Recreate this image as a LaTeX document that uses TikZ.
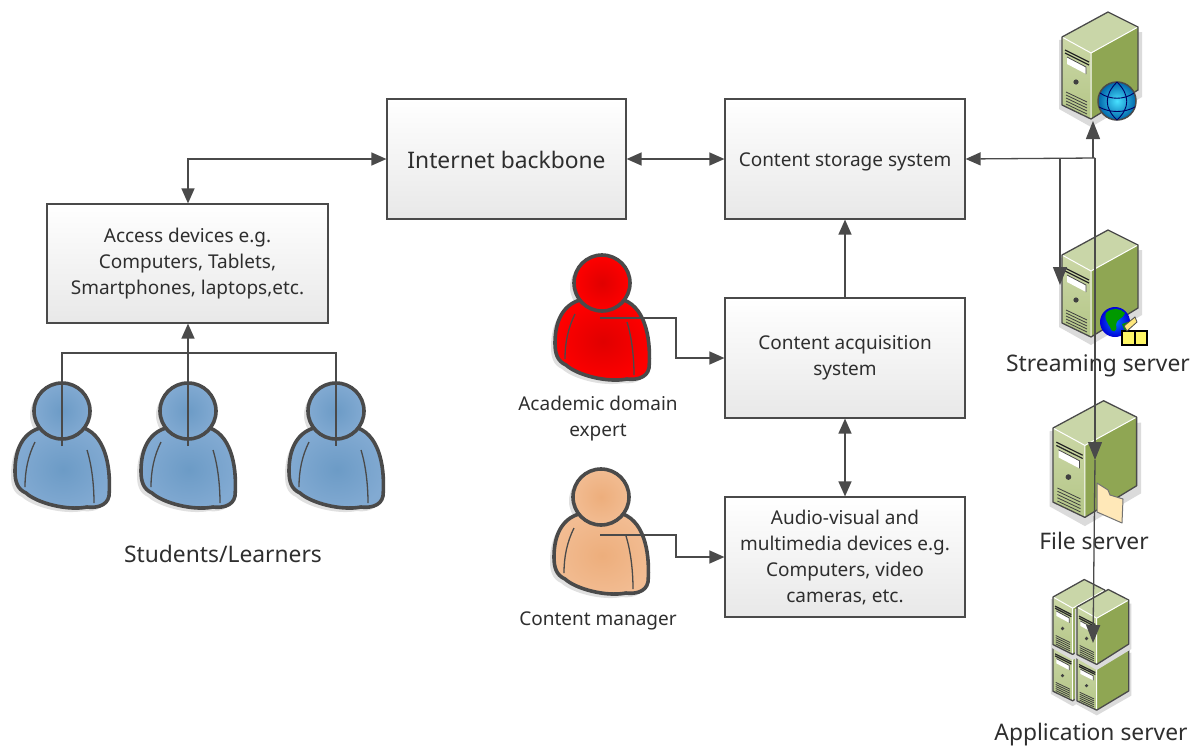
\documentclass[tikz,border=0pt]{standalone}
\usepackage{fontspec}
\setmainfont{Noto Sans}
\usetikzlibrary{arrows.meta}
\definecolor{ink}{HTML}{4A4A4A}
\definecolor{txt}{HTML}{2E2E2E}
\definecolor{srvside}{HTML}{8FA653}
\definecolor{srvtop}{HTML}{C9D6A8}
\definecolor{srvfa}{HTML}{CBD7A6}
\definecolor{srvfb}{HTML}{B4C687}
\definecolor{blueA}{HTML}{6C9BC6}
\definecolor{blueB}{HTML}{82AAD2}
\definecolor{redA}{HTML}{E00000}
\definecolor{redB}{HTML}{FF0000}
\definecolor{orgA}{HTML}{EDAE7C}
\definecolor{orgB}{HTML}{F2BC92}
\tikzset{
  x=1pt,y=-1pt,
  box/.style={draw=ink,line width=1.2pt,top color=white,bottom color=black!9,align=center,text=txt,inner sep=2pt,font=\fontsize{19}{26}\selectfont,execute at begin node={\rule{0pt}{20pt}}},
  lab/.style={text=txt,align=center,inner sep=0pt,font=\fontsize{19}{26}\selectfont},
  biglab/.style={text=txt,align=center,inner sep=0pt,font=\fontsize{22.8}{26}\selectfont},
  conn/.style={draw=ink,line width=1.3pt},
  arr/.style={conn,-{Triangle[length=15pt,width=13pt]}},
  bigarr/.style={conn,-{Triangle[length=18pt,width=14pt]}},
  darr/.style={conn,{Triangle[length=15pt,width=13pt]}-{Triangle[length=15pt,width=13pt]}},
  pics/person/.style n args={2}{code={
    \def\bodypath{(-22,17) .. controls (-39,22) and (-47,38) .. (-47,60) .. controls (-47,70) and (-45,78) .. (-36,82) .. controls (-25,92) and (5,100) .. (25,96) .. controls (32,97) and (45,96) .. (47,85) .. controls (49,60) and (45,26) .. (22,17) -- cycle}
    \fill[black!12,shift={(-4,4)}] \bodypath;
    \fill[black!12] (-4,4) circle (28);
    \path[draw=ink,line width=3.6pt,line join=round,inner color=#1,outer color=#2] \bodypath;
    \draw[ink,line width=1.3pt] (-27,31) .. controls (-34,45) and (-37,60) .. (-37,76);
    \draw[ink,line width=1.3pt] (25,39) .. controls (30,55) and (32,75) .. (32,92);
    \path[draw=ink,line width=3.6pt,inner color=#1,outer color=#2] (0,0) circle (28);
  }},
  pics/server/.style={code={
    \fill[black!14] (-3,3) -- (-3,72) -- (29,90) -- (80,60) -- (80,-5) -- cycle;
    \path[top color=srvfa,bottom color=srvfb] (0,0) -- (29,16) -- (29,82) -- (0,68) -- cycle;
    \fill[srvside] (29,16) -- (76,-10) -- (76,53) -- (29,82) -- cycle;
    \fill[srvtop] (0,0) -- (46,-25) -- (76,-10) -- (29,16) -- cycle;
    \draw[white,line width=1pt] (0,0) -- (29,16) -- (76,-10) (29,16) -- (29,82);
    \draw[ink,line width=1.3pt,line join=round] (0,0) -- (46,-25) -- (76,-10) -- (76,53) -- (29,82) -- (0,68) -- cycle;
    \draw[black!85,line width=1.2pt] (3,13) -- (27,25) (3,16) -- (27,28);
    \fill[white] (5,20) -- (24,30) -- (24,37) -- (5,27) -- cycle;
    \draw[ink,line width=.8pt] (5,20) -- (24,30) -- (24,37);
    \fill[black!75] (14,45) circle (2.6);
    \foreach \v in {0,3,6,9,12}{\draw[black!75,line width=.8pt] (4,{55+\v}) -- (25,{65+\v});}
  }}
}
\begin{document}
\begin{tikzpicture}
\useasboundingbox (0,0) rectangle (1197,747);
% people
\pic at (62,411) {person={blueA}{blueB}};
\pic at (188,411) {person={blueA}{blueB}};
\pic at (336,411) {person={blueA}{blueB}};
\pic at (602,283) {person={redA}{redB}};
\pic at (601,497) {person={orgA}{orgB}};
% servers
\pic at (1062,37) {server};
\pic at (1062,255) {server};
\pic[xscale=1.1,yscale=1.09] at (1053,428) {server};
\pic[xscale=.68,yscale=.68] at (1053,645) {server};
\pic[xscale=.68,yscale=.7] at (1053,597) {server};
\pic[xscale=.68,yscale=.66] at (1077,656) {server};
\pic[xscale=.68,yscale=.7] at (1077,607) {server};
% top globe
\path[draw=ink,line width=1.5pt,inner color=white!70!blue!40!cyan,outer color=blue!45!black!60!cyan] (1117,101) circle (19);
\draw[blue!40!black,line width=.9pt] (1117,82) .. controls (1104,95) and (1104,108) .. (1117,120)
  (1117,82) .. controls (1130,95) and (1130,108) .. (1117,120)
  (1100,93) .. controls (1110,100) and (1124,100) .. (1134,93)
  (1099,107) .. controls (1110,113) and (1124,113) .. (1135,107);
% earth globe
\path[inner color=blue!55!cyan,outer color=blue!85!black] (1115,322) circle (15);
\fill[green!60!black] (1106,313) .. controls (1112,307) and (1120,308) .. (1125,313) .. controls (1122,320) and (1117,318) .. (1116,325) .. controls (1118,332) and (1112,334) .. (1110,327) .. controls (1107,322) and (1104,318) .. (1106,313) -- cycle;
\fill[green!60!black] (1122,324) -- (1128,322) -- (1125,332) -- cycle;
% boxes on streaming server
\draw[black,fill=yellow!60,line width=1.2pt] (1122,331) rectangle (1135,345);
\draw[black,fill=yellow!60,line width=1.2pt] (1135,331) rectangle (1147,345);
\draw[black!70,fill=yellow!70!orange!50,line width=.8pt] (1124,326) -- (1135,317) -- (1137,322) -- (1127,331) -- cycle;
% folder
\draw[black!55,fill=orange!20!white!90!yellow,line width=1pt,line join=round] (1097,483) -- (1108,490) -- (1110,495) -- (1123,499) -- (1122,523) -- (1097,512) -- cycle;
% boxes
\node[box,minimum width=281,minimum height=119,execute at begin node={\rule{0pt}{24pt}}] (access) at (187.5,263.5) {Access devices e.g.\\Computers, Tablets,\\Smartphones, laptops,etc.};
\node[box,minimum width=239,minimum height=120,font=\fontsize{22.8}{26}\selectfont] (net) at (506.5,159) {Internet backbone};
\node[box,minimum width=240,minimum height=120] (store) at (845,159) {Content storage system};
\node[box,minimum width=240,minimum height=120,execute at begin node={\rule{0pt}{26pt}}] (acq) at (845,358) {Content acquisition\\system};
\node[box,minimum width=240,minimum height=120] (av) at (845,557) {Audio-visual and\\multimedia devices e.g.\\Computers, video\\cameras, etc.};
% labels
\node[biglab] (students) at (223,554) {Students/Learners};
\node[lab] (expert) at (598,419) {Academic domain\\expert};
\node[lab] (manager) at (598,621) {Content manager};
\node[biglab] (stream) at (1098,366) {Streaming server};
\node[biglab] (file) at (1094,541) {File server};
\node[biglab] (app) at (1091,735) {Application server};
% connector ends
\coordinate (s1) at (62,446);
\coordinate (s2) at (188,446);
\coordinate (s3) at (336,446);
\coordinate (ep) at (600,318);
\coordinate (mp) at (600,535);
\coordinate (j1) at (1060,158);
\coordinate (j2) at (1093,158);
\coordinate (j3) at (1095,158);
\coordinate (web) at (1093,121);
\coordinate (streamT) at (1060,285);
\coordinate (fileT) at (1095,460);
\coordinate (appT) at (1093,643);
% connectors
\draw[darr] (net.west) -- (188,159) -- (access.north -| 188,0);
\draw[darr] (net.east) -- (store.west);
\draw[arr] (acq.north) -- (store.south);
\draw[darr] (acq.south) -- (av.north);
\draw[arr] (ep) -- (676,318) -- (676,358) -- (acq.west);
\draw[arr] (mp) -- (676,535) -- (676,557) -- (av.west);
\draw[conn] (s1) -- (62,353) -- (336,353) -- (s3);
\draw[arr] (s2) -- (access.south -| s2);
\draw[conn,{Triangle[length=15pt,width=13pt]}-] (store.east) -- (j3);
\draw[bigarr] (j2) -- (web);
\draw[bigarr] (j1) -- (streamT);
\draw[bigarr] (j3) -- (fileT);
\draw[bigarr] (fileT) -- (appT);
\end{tikzpicture}
\end{document}
